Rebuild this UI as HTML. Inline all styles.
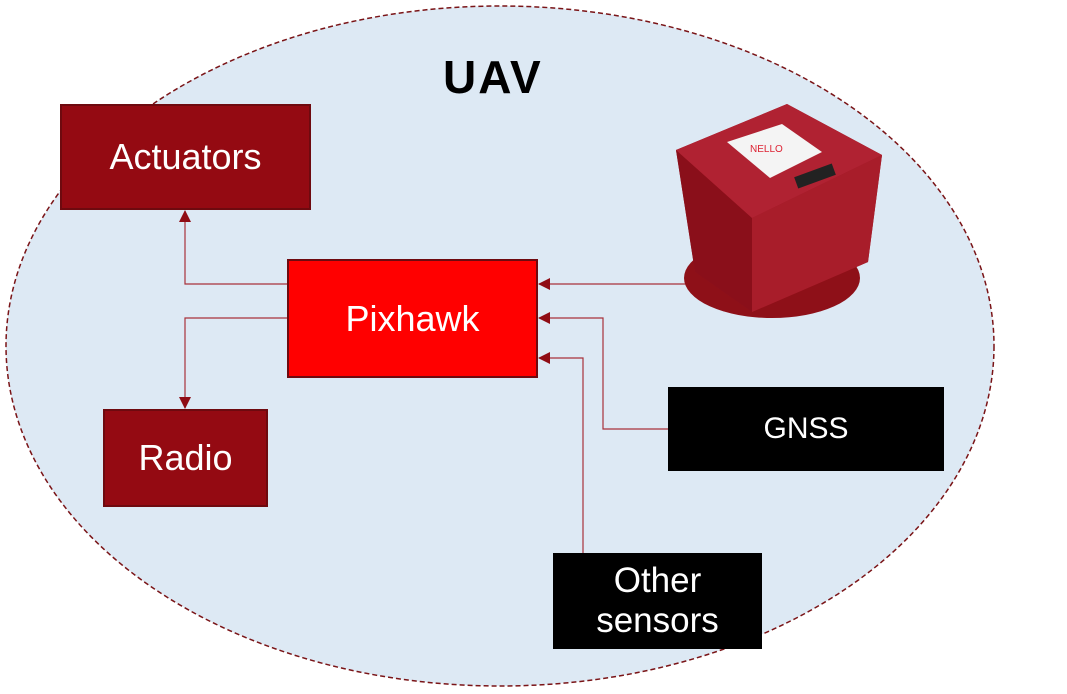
<!DOCTYPE html>
<html><head><style>
body{margin:0;width:1067px;height:694px;background:#fff;overflow:hidden;font-family:"Liberation Sans",sans-serif}
.b{position:absolute;display:flex;align-items:center;justify-content:center;color:#fff;text-align:center;box-sizing:border-box}
</style></head><body>
<svg width="1067" height="694" style="position:absolute;left:0;top:0">
<ellipse cx="500" cy="346" rx="494" ry="340" fill="#dde9f4" stroke="#7a1417" stroke-width="1.5" stroke-dasharray="5,3"/>
<defs><marker id="a" markerWidth="12" markerHeight="12" refX="11" refY="6" orient="auto" markerUnits="userSpaceOnUse"><path d="M0,0 L12,6 L0,12z" fill="#8f0c14"/></marker></defs>
<g stroke="#a8323a" stroke-width="1.2" fill="none">
<polyline points="288,284 185,284 185,211" marker-end="url(#a)"/>
<polyline points="288,318 185,318 185,408" marker-end="url(#a)"/>
<polyline points="700,284 539,284" marker-end="url(#a)"/>
<polyline points="668,429 603,429 603,318 539,318" marker-end="url(#a)"/>
<polyline points="583,553 583,358 539,358" marker-end="url(#a)"/>
</g>
<!-- device -->
<ellipse cx="772" cy="278" rx="88" ry="40" fill="#8e1018"/>
<polygon points="676,150 695,272 752,312 868,262 882,155 787,104" fill="#9c1622"/>
<polygon points="752,218 882,155 868,262 752,312" fill="#a81d2a"/>
<polygon points="676,150 752,218 752,312 695,272" fill="#8a0f1a"/>
<polygon points="676,150 787,104 882,155 752,218" fill="#b02232"/>
<polygon points="727,142 782,124 822,152 770,178" fill="#f4f4f4"/>
<text x="750" y="152" font-size="10" fill="#d23" font-family="Liberation Sans">NELLO</text>
<rect x="795" y="170" width="40" height="12" fill="#222" transform="rotate(-20 815 176)"/>
</svg>
<div style="position:absolute;left:443px;top:50px;font-size:46px;font-weight:bold;color:#000;letter-spacing:2px">UAV</div>
<div class="b" style="left:60px;top:104px;width:251px;height:106px;background:#940a12;border:2px solid #6e0a0f;font-size:36px">Actuators</div>
<div class="b" style="left:103px;top:409px;width:165px;height:98px;background:#940a12;border:2px solid #6e0a0f;font-size:36px">Radio</div>
<div class="b" style="left:287px;top:259px;width:251px;height:119px;background:#ff0000;border:2px solid #6e0a0f;font-size:36px">Pixhawk</div>
<div class="b" style="left:668px;top:387px;width:276px;height:84px;background:#000;font-size:30px">GNSS</div>
<div class="b" style="left:553px;top:553px;width:209px;height:96px;background:#000;font-size:35px;line-height:40px">Other<br>sensors</div>
</body></html>
